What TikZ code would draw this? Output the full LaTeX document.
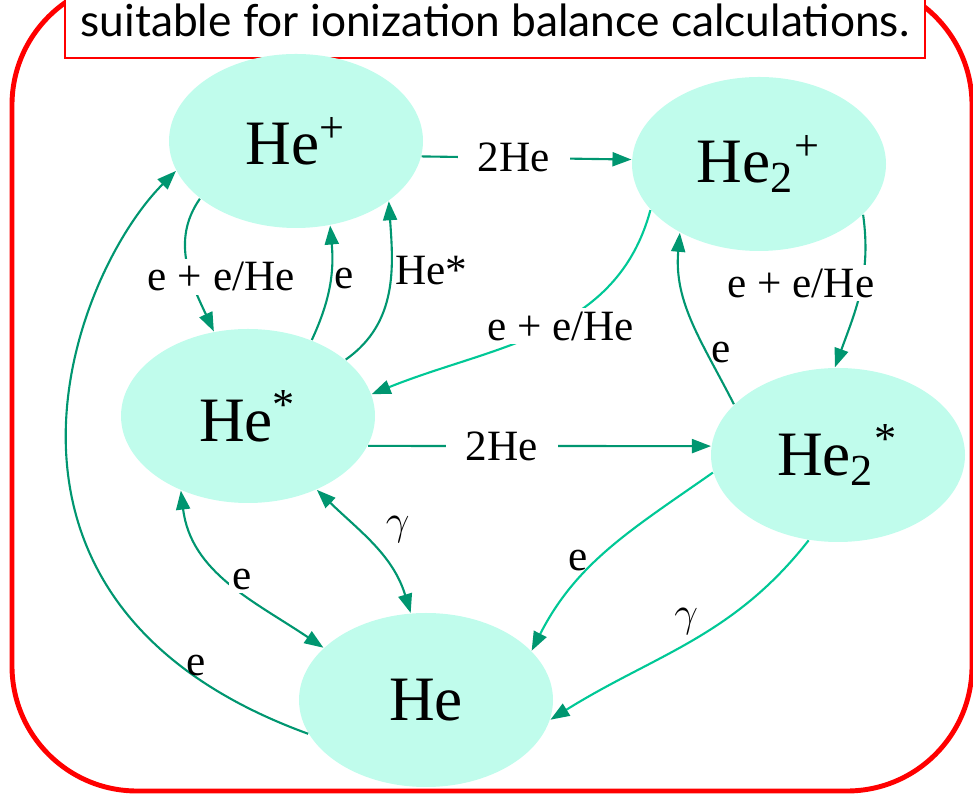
\documentclass[tikz,border=0pt]{standalone}
\usepackage{fontspec}
\setmainfont{Liberation Serif}
\newfontfamily\titlefont{Lato}
\usetikzlibrary{shapes.geometric, arrows.meta}
\definecolor{speciesfill}{RGB}{192,252,236}
\definecolor{flowdark}{RGB}{0,150,112}
\definecolor{flowlight}{RGB}{0,200,150}
\definecolor{framered}{RGB}{255,0,0}
\tikzset{
    species/.style={ellipse, fill=speciesfill, minimum width=2.54cm,
                    minimum height=1.74cm, inner sep=0pt,
                    font=\fontsize{18}{18}\selectfont},
    flow/.style={draw=flowdark, line width=0.6pt,
                 -{Triangle[length=1.9mm, width=1.4mm, color=flowdark]}},
    flowboth/.style={flow, {Triangle[length=1.9mm, width=1.4mm, color=flowdark]}-{Triangle[length=1.9mm, width=1.4mm, color=flowdark]}},
    flowpale/.style={flow, draw=flowlight},
    rate/.style={font=\fontsize{12.3}{13}\selectfont, inner sep=1pt},
    ratecut/.style={rate, fill=white, inner xsep=2mm},
    titlebox/.style={draw=framered, line width=0.6pt, fill=white, anchor=base,
                     minimum width=8.6cm, text height=0.8cm, text depth=0.21cm,
                     inner sep=0pt, font=\titlefont\fontsize{12.6}{14}\selectfont},
}

\begin{document}
\begin{tikzpicture}
    \path[use as bounding box, clip] (0,0) rectangle (9.73,7.94);
    % outer frame and caption
    \draw[framered, line width=1.4pt, rounded corners=1.25cm]
        (0.12,0.03) rectangle (9.72,8.14);
    \node[titlebox] (caption) at (4.95,7.57)
        {suitable for ionization balance calculations.};

    % species
    \node[species] (hep)  at (2.96,6.53) {He\textsuperscript{+}};
    \node[species] (hetp) at (7.59,6.30) {He\textsubscript{2}\textsuperscript{+}};
    \node[species] (hes)  at (2.48,3.78) {He\textsuperscript{*}};
    \node[species] (hets) at (8.38,3.39) {He\textsubscript{2}\textsuperscript{*}};
    \node[species] (he)   at (4.26,0.94) {He};

    % reactions
    \draw[flow] (hep.-7) -- node[ratecut, pos=0.44] {2He} (hetp.178);
    \draw[flow] (hep.211) to[out=235, in=115]
        node[ratecut, pos=0.45, xshift=3.5mm, yshift=-2mm] {e + e/He} (hes.112);
    \draw[flow] (hes.50) to[out=65, in=-85]
        node[rate, right, pos=0.55] {e} (hep.-68);
    \draw[flow] (hes.30) to[out=35, in=-86]
        node[rate, right, pos=0.62] {He*} (hep.-33);
    \draw[flowpale] (hetp.203) to[out=255, in=22]
        node[ratecut, pos=0.4, inner xsep=1pt, xshift=-1.2mm, yshift=-1.1mm] {e + e/He} (hes.10);
    \draw[flow] (hetp.-26) to[out=-82, in=70]
        node[ratecut, pos=0.4, xshift=-6.2mm, yshift=-0.5mm] {e + e/He} (hets.92);
    \draw[flow] (hets.154) to[out=117, in=-95]
        node[rate, right, pos=0.3] {e} (hetp.221);
    \draw[flow] (hes.-14) -- node[ratecut, pos=0.39] {2He} (hets.176);
    \draw[flowboth] (hes.228) to[out=-83, in=146]
        node[rate, fill=white, pos=0.55, xshift=0.4mm, yshift=1mm] {e} (he.153);
    \draw[flowboth] (hes.-47) to[out=-44, in=107]
        node[rate, right, pos=0.35, xshift=2.3mm] {$\gamma$} (he.100);
    \draw[flowpale] (hets.188) to[out=215, in=63]
        node[rate, left, pos=0.45, xshift=-2.5mm, yshift=-1.8mm] {e} (he.25);
    \draw[flowpale] (hets.251) to[out=232, in=32]
        node[rate, above left, pos=0.45, yshift=-0.5mm] {$\gamma$} (he.-9);
    \draw[flow] (he.196) .. controls +(160:3.85) and +(225:1.47) ..
        node[rate, above, pos=0.1, xshift=-1.8mm, yshift=0.8mm] {e} (hep.194);
\end{tikzpicture}
\end{document}
